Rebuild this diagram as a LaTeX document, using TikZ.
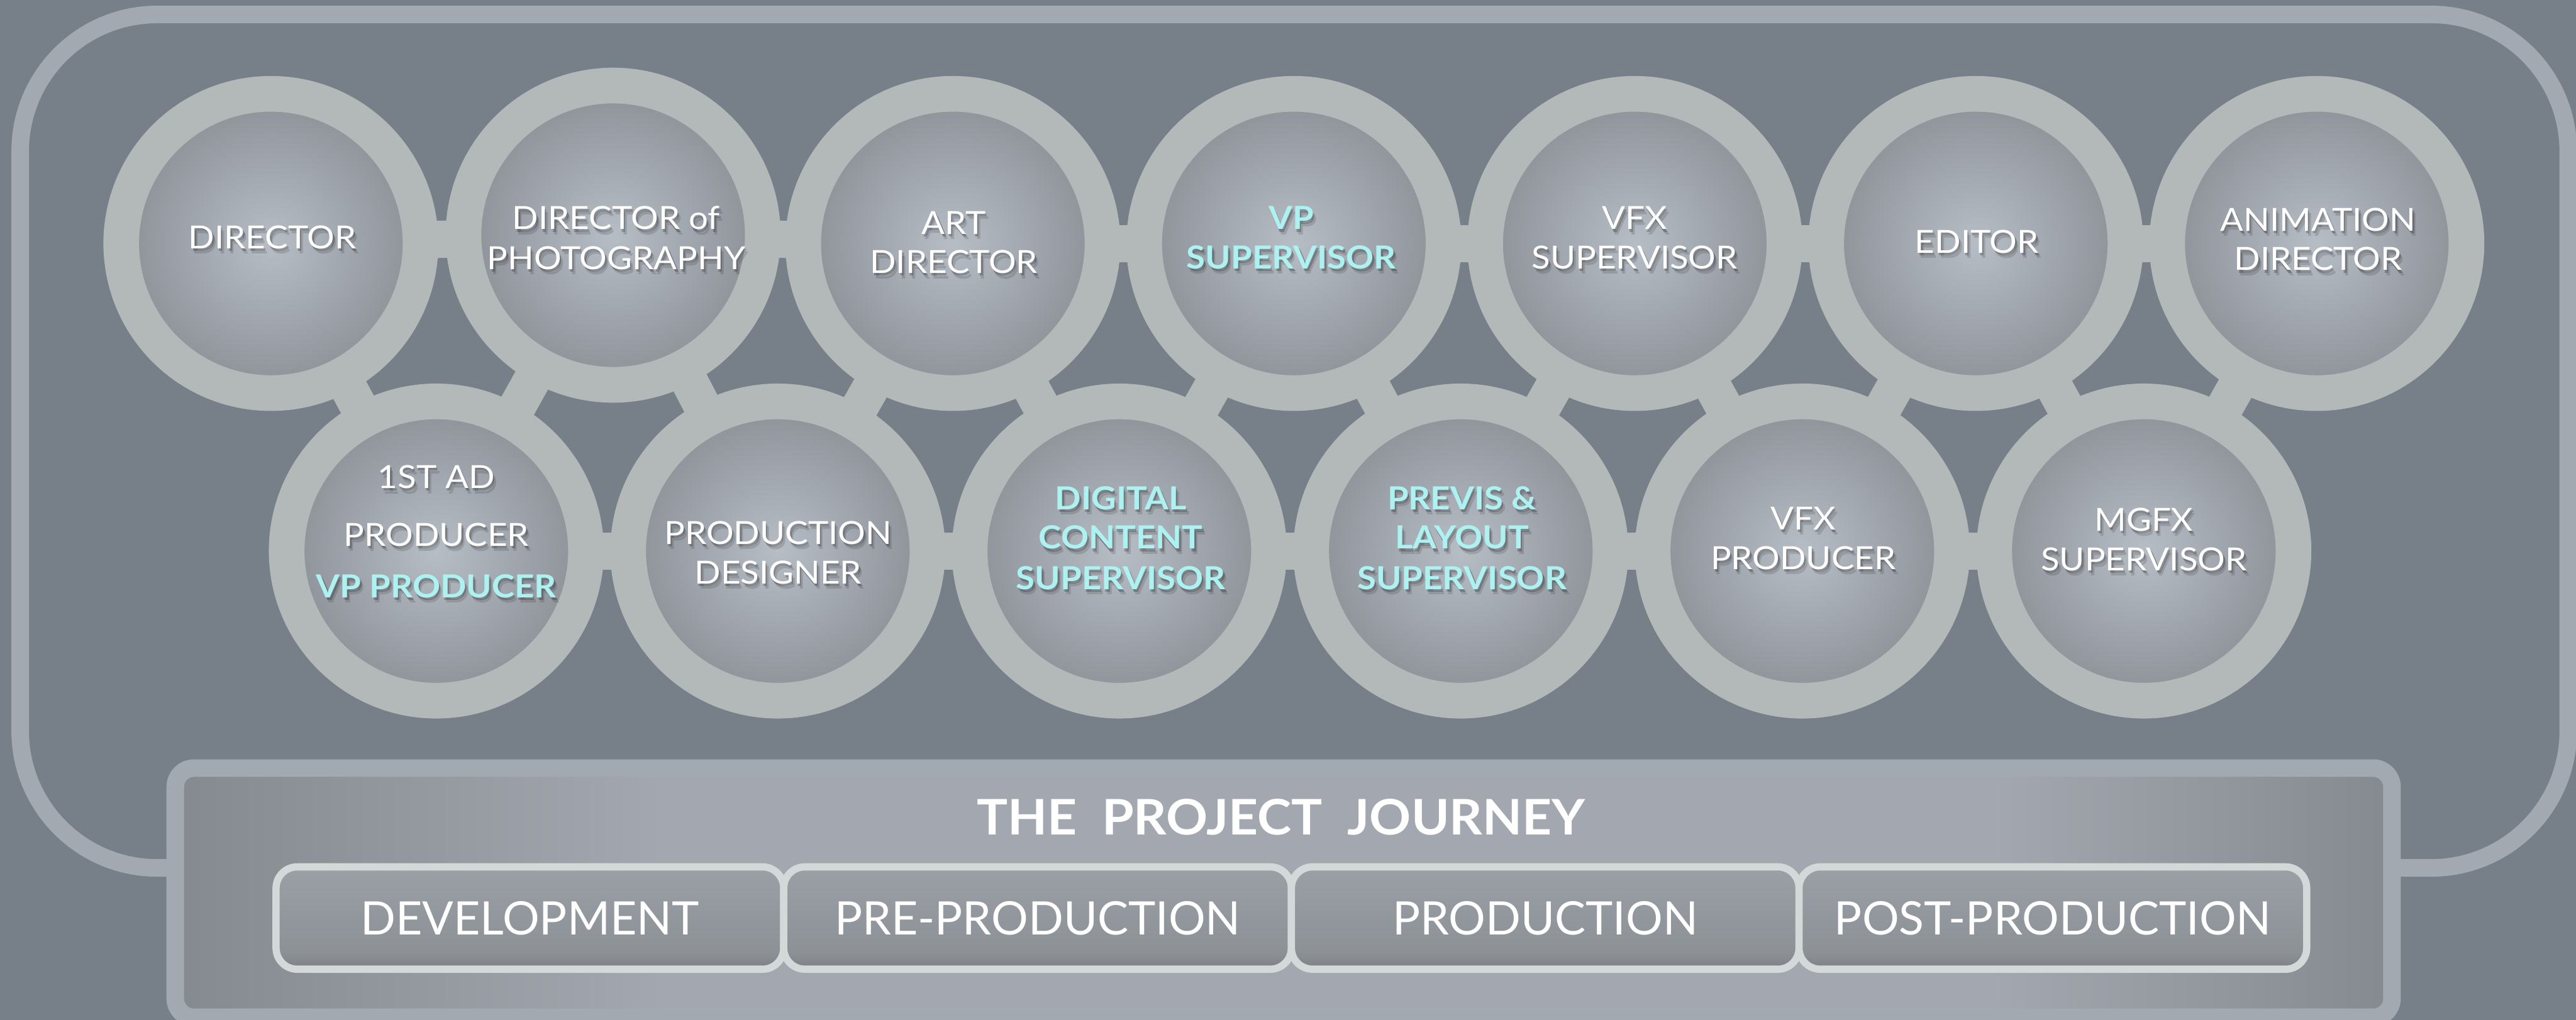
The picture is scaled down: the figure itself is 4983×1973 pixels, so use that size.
\documentclass[tikz,border=0pt]{standalone}
\usepackage{fontspec}
\setmainfont{Lato}
\newfontfamily\crewfont[FakeStretch=1.08]{Lato}
\newfontfamily\headfont[FakeStretch=1.05]{Lato}

\definecolor{backdrop}{HTML}{778089}
\definecolor{frameline}{HTML}{A3A9B0}
\definecolor{ringgray}{HTML}{B3B9B8}
\definecolor{discin}{HTML}{B7BDC5}
\definecolor{discout}{HTML}{8C9198}
\definecolor{keycyan}{HTML}{ADF1F1}
\definecolor{tabrim}{HTML}{D3D8D8}
\definecolor{tabtop}{HTML}{9BA0A7}
\definecolor{tabmid}{HTML}{8C9196}
\definecolor{tabbot}{HTML}{7D8085}
\definecolor{jedge}{HTML}{858A90}
\definecolor{jmid}{HTML}{A3A8B0}

% fills for the journey panel and the stage tabs
\pgfdeclarehorizontalshading{journeyfill}{100bp}{color(0bp)=(jedge); color(25bp)=(jedge);
  color(36bp)=(jmid); color(66bp)=(jmid); color(75bp)=(jedge); color(100bp)=(jedge)}
\pgfdeclareverticalshading{tabfill}{100bp}{color(0bp)=(tabbot); color(25bp)=(tabbot);
  color(33bp)=(tabmid); color(75bp)=(tabtop); color(100bp)=(tabtop)}

\tikzset{
  link/.style={ringgray, line width=7.2mm},
  role/.style={circle, minimum size=57.9mm, inner sep=0pt, draw=ringgray,
    line width=6.9mm, inner color=discin, outer color=discout},
  crew/.style={font=\crewfont\fontsize{17.5}{21}\selectfont, text=white, anchor=base, inner sep=0pt},
  keycrew/.style={crew, font=\crewfont\fontsize{17.5}{21}\selectfont\bfseries, text=keycyan},
  journey/.style={draw=frameline, line width=3.4mm, rounded corners=3.6mm,
    minimum width=428.8mm, minimum height=48.2mm, shade, shading=journeyfill},
  headline/.style={font=\headfont\fontsize{27}{32}\selectfont\bfseries, text=white, anchor=base, inner sep=0pt},
  stage/.style={draw=tabrim, line width=1.4mm, rounded corners=4.1mm,
    minimum width=98.2mm, minimum height=19.8mm, shade, shading=tabfill,
    font=\fontsize{25.4}{30}\selectfont, text=white}
}

% one line of a crew label, with its soft shadow
\newcommand\castline[4]{%
  \node[#1, text=black, opacity=.13] (#2-s2) at ([shift={(6,10)}]#3) {#4};
  \node[#1, text=black, opacity=.22] (#2-s1) at ([shift={(3,5)}]#3) {#4};
  \node[#1] (#2) at (#3) {#4};}

\begin{document}
\begin{tikzpicture}[x=0.1mm, y=-0.1mm]
  \useasboundingbox (0,0) rectangle (4983,1973);
  \fill[backdrop] (0,0) rectangle (4983,1973);

  % outer frame
  \draw[frameline, line width=3.4mm, rounded corners=26.5mm] (39,28) rectangle (4968,1679);

  % centres of the two rows
  \foreach \i in {0,...,6}
    \coordinate (t\i) at (524+659.6*\i,471);
  \coordinate (t1) at (1186,455);
  \foreach \i in {0,...,5}
    \coordinate (b\i) at (844+660.6*\i,1066);

  % links between the rings
  \foreach \i [evaluate=\i as \j using int(\i+1)] in {0,...,5} {
    \draw[link] (t\i) -- (t\j);
    \draw[link] (t\i) -- (b\i);
    \draw[link] (b\i) -- (t\j);
  }
  \foreach \i [evaluate=\i as \j using int(\i+1)] in {0,...,4}
    \draw[link] (b\i) -- (b\j);

  % rings
  \foreach \c/\n in {t0/director, t1/dop, t2/artdir, t3/vpsup, t4/vfxsup, t5/editor,
      t6/animdir, b0/firstad, b1/proddes, b2/digital, b3/previs, b4/vfxprod, b5/mgfx}
    \node[role] (\n) at (\c) {};

  % top row labels
  \castline{crew}{l-dir}{527,481}{DIRECTOR}
  \castline{crew}{l-dop1}{1192,444}{DIRECTOR of}
  \castline{crew}{l-dop2}{1192,521}{PHOTOGRAPHY}
  \castline{crew}{l-art1}{1845,453}{ART}
  \castline{crew}{l-art2}{1845,529}{DIRECTOR}
  \castline{keycrew}{l-vp1}{2498,444}{VP}
  \castline{keycrew}{l-vp2}{2498,520}{SUPERVISOR}
  \castline{crew}{l-vfx1}{3162,444}{VFX}
  \castline{crew}{l-vfx2}{3162,520}{SUPERVISOR}
  \castline{crew}{l-edit}{3824,490}{EDITOR}
  \castline{crew}{l-anim1}{4484,447}{ANIMATION}
  \castline{crew}{l-anim2}{4484,523}{DIRECTOR}

  % bottom row labels
  \castline{crew}{l-ad1}{844,945}{1ST AD}
  \castline{crew}{l-ad2}{844,1056}{PRODUCER}
  \castline{keycrew}{l-ad3}{844,1156}{VP PRODUCER}
  \castline{crew}{l-pd1}{1505,1053}{PRODUCTION}
  \castline{crew}{l-pd2}{1505,1129}{DESIGNER}
  \castline{keycrew}{l-dc1}{2168,986}{DIGITAL}
  \castline{keycrew}{l-dc2}{2168,1062}{CONTENT}
  \castline{keycrew}{l-dc3}{2168,1140}{SUPERVISOR}
  \castline{keycrew}{l-pv1}{2828,986}{PREVIS \&}
  \castline{keycrew}{l-pv2}{2828,1062}{LAYOUT}
  \castline{keycrew}{l-pv3}{2828,1140}{SUPERVISOR}
  \castline{crew}{l-vp1}{3488,1025}{VFX}
  \castline{crew}{l-vp2}{3488,1101}{PRODUCER}
  \castline{crew}{l-mg1}{4147,1027}{MGFX}
  \castline{crew}{l-mg2}{4147,1104}{SUPERVISOR}

  % project journey panel
  \node[journey] (journey) at (2483,1727) {};
  \node[headline] (title) at (2478,1615) {THE\ \ PROJECT\ \ JOURNEY};
  \foreach \n/\t [count=\k from 0] in {dev/DEVELOPMENT, pre/PRE-PRODUCTION,
      prod/PRODUCTION, post/POST-PRODUCTION}
    \node[stage] (\n) at (1025+982*\k,1776) {\t};
\end{tikzpicture}
\end{document}
